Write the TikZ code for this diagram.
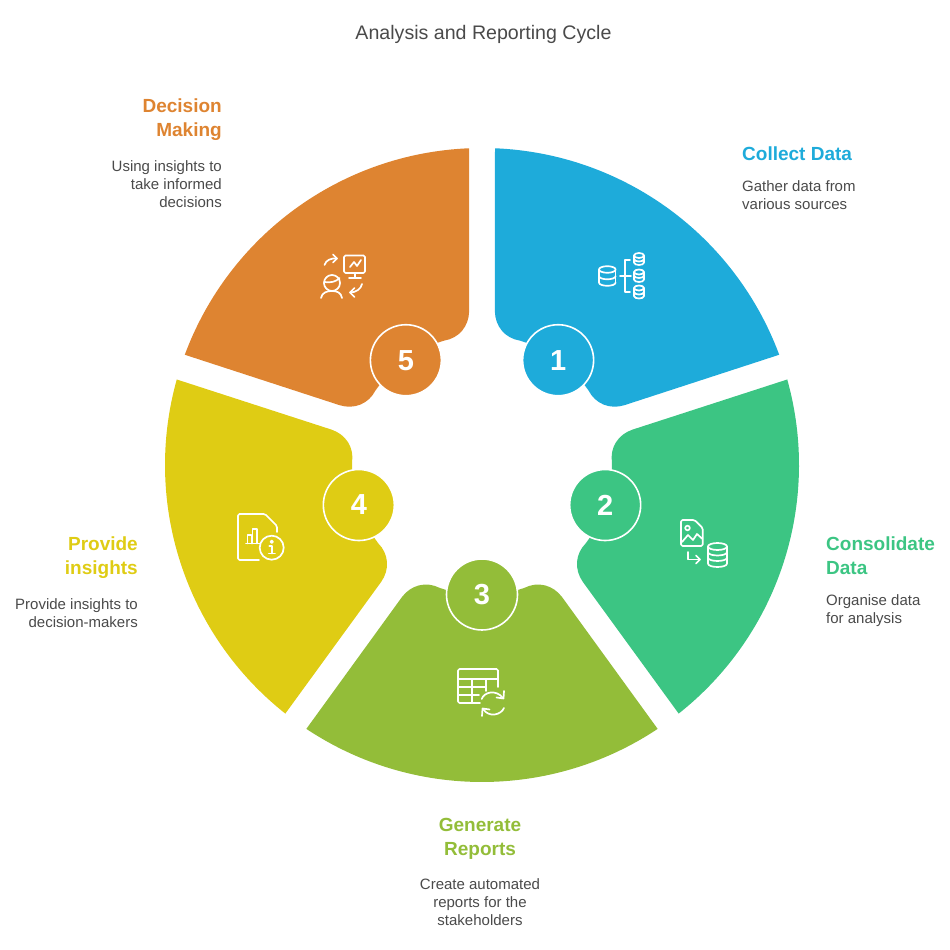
\documentclass[tikz,border=0pt]{standalone}
\usepackage{fontspec}
\setmainfont{Liberation Sans}
\usetikzlibrary{positioning}
\definecolor{clrblue}{HTML}{1EABDA}
\definecolor{clrgreen}{HTML}{3CC583}
\definecolor{clrolive}{HTML}{93BD39}
\definecolor{clryellow}{HTML}{DFCC14}
\definecolor{clrorange}{HTML}{DE8431}
\definecolor{clrtext}{HTML}{4A4A4A}
\newcommand{\dbstack}[6]{%
  \draw (#1,#2) ellipse[x radius=#3,y radius=#4];
  \draw (#1-#3,#2) -- ++(0,#5);
  \draw (#1+#3,#2) -- ++(0,#5);
  \foreach \b in {#6}
    \draw (#1-#3,#2+\b) .. controls +(0,1.33*#4) and +(0,1.33*#4) .. ++(2*#3,0);
}
\begin{document}
\begin{tikzpicture}[x=1pt,y=1pt]
  \tikzstyle{heading}=[inner sep=0pt, font=\bfseries\fontsize{19}{24}\selectfont]
  \tikzstyle{desc}=[inner sep=0pt, text=clrtext, font=\fontsize{15}{18}\selectfont]
  \tikzstyle{badge}=[circle, draw=white, line width=1.6pt, minimum size=71pt, inner sep=0pt, text=white, font=\bfseries\fontsize{29}{29}\selectfont]
  \tikzstyle{icon}=[draw=white, line width=1.7pt, line cap=round, line join=round]
  \useasboundingbox (0,0) rectangle (950,950);

  \node[text=clrtext, inner sep=0pt, font=\fontsize{19.6}{24}\selectfont] (title) at (483.5,916) {Analysis and Reporting Cycle};

  % sectors and numbers
  \begin{scope}[shift={(482,485)}]
    \foreach \n/\ang/\col in {1/54/clrblue, 2/-18/clrgreen, 3/-90/clrolive, 4/-162/clryellow, 5/-234/clrorange} {
      \fill[\col, rotate=\ang-90] (123.65:317) arc[start angle=123.65, end angle=56.35, radius=317]
        -- (80,132) .. controls (71,120) and (56,116) .. (71:130)
        arc[start angle=71, end angle=109, radius=130]
        .. controls (-56,116) and (-71,120) .. (-80,132) -- cycle;
      \node[badge, fill=\col] (badge\n) at (\ang:129.5) {\n};
    }
  \end{scope}

  % labels
  \node[heading, text=clrblue, anchor=north west] (collect) at (742,803.5) {Collect Data};
  \node[desc, align=left, below=19.5pt of collect.south west, anchor=north west] (collecttxt) {Gather data from\\various sources};

  \node[heading, text=clrgreen, align=left, anchor=north west] (consolidate) at (826,413.5) {Consolidate\\Data};
  \node[desc, align=left, below=19.5pt of consolidate.south west, anchor=north west] (consolidatetxt) {Organise data\\for analysis};

  \node[heading, text=clrolive, align=center, anchor=north] (generate) at (480,132) {Generate\\Reports};
  \node[desc, align=center, below=19pt of generate.south, anchor=north] (generatetxt) {Create automated\\reports for the\\stakeholders};

  \node[heading, text=clryellow, align=right, anchor=north east] (provide) at (138,413.5) {Provide\\insights};
  \node[desc, align=right, below=19.5pt of provide.south east, anchor=north east] (providetxt) {Provide insights to\\decision-makers};

  \node[heading, text=clrorange, align=right, anchor=north east] (decision) at (222,851) {Decision\\Making};
  \node[desc, align=right, below=19pt of decision.south east, anchor=north east] (decisiontxt) {Using insights to\\take informed\\decisions};

  % icon 1
  \begin{scope}[shift={(590,710)}, y=-1pt, every path/.style={icon}]
    \dbstack{17.3}{29.5}{8.3}{3.3}{13}{6.5,13}
    \dbstack{49}{15.5}{5}{2.5}{7}{3.5,7}
    \dbstack{49}{32}{5}{2.5}{7.5}{3.5,7.5}
    \dbstack{49}{48}{5}{2.5}{8}{4,8}
    \draw (40,20) -- (35,20) -- (35,52) -- (40,52);
    \draw (30,36) -- (41,36);
  \end{scope}

  % icon 2
  \begin{scope}[shift={(670,440)}, y=-1pt, every path/.style={icon}]
    \draw[rounded corners=1.5pt] (18,10) -- (11,10) -- (11,36) -- (32.7,36) -- (32.7,18) -- (24.5,10) -- cycle;
    \draw (17.5,18) circle[radius=2.3];
    \draw (12,32) -- (18,25) -- (23,30) -- (27,24) -- (32.5,29);
    \draw (18,42) -- (18,49.5) -- (30,49.5);
    \draw (26,45.5) -- (30,49.5) -- (26,53.5);
    \dbstack{47.5}{36.5}{9.5}{3.5}{17}{5.5,11,17}
  \end{scope}

  % icon 3
  \begin{scope}[shift={(450,290)}, y=-1pt, every path/.style={icon}]
    \draw[rounded corners=1.5pt] (30,43) -- (8,43) -- (8,9) -- (48,9) -- (48,27);
    \draw (8,19) -- (48,19);
    \draw (8,27) -- (36,27);
    \draw (8,35) -- (29,35);
    \draw (22,19) -- (22,43);
    \draw (36,19) -- (36,31);
    \draw (31.7,39) .. controls (34,32) and (46,29) .. (53,38);
    \draw (54,31) -- (53.5,38.5) -- (46.5,37.5);
    \draw (54,48) .. controls (51,55) and (39,58) .. (33,49);
    \draw (32,56) -- (32.5,48.5) -- (39.5,49.5);
  \end{scope}

  % icon 4
  \begin{scope}[shift={(230,445)}, y=-1pt, every path/.style={icon}]
    \draw[rounded corners=1.5pt] (29,55) -- (8,55) -- (8,9) -- (35,9) -- (47,21) -- (47,27);
    \draw (16,38.5) -- (30,38.5);
    \draw (17.5,38.5) -- (17.5,30) -- (21.5,30) -- (21.5,38.5);
    \draw (22.5,38.5) -- (22.5,24) -- (27,24) -- (27,38.5);
    \draw (41.7,42.7) circle[radius=12];
    \fill[white] (41.7,36.8) circle[radius=1.2];
    \draw (39.3,41) -- (41.7,41) -- (41.7,48.5);
    \draw (38.8,48.5) -- (45,48.5);
  \end{scope}

  % icon 5
  \begin{scope}[shift={(312,705)}, y=-1pt, every path/.style={icon}]
    \draw[rounded corners=1.5pt] (32,10.5) rectangle (53,28);
    \draw (38,22) -- (42,17) -- (45,21) -- (49,15);
    \draw (43,28) -- (43,33);
    \draw (37,33) -- (49,33);
    \draw (12.5,20) .. controls (14,15) and (19,13) .. (25,13.5);
    \draw (21,9.5) -- (25,13.5) -- (21,17.5);
    \draw (20,38) circle[radius=8];
    \draw (12.3,37) .. controls (18,38) and (24,37) .. (27.5,33);
    \draw (9,53) .. controls (10,47.5) and (15,46) .. (20,46) .. controls (25,46) and (29,47.5) .. (30,53);
    \draw (50,39) .. controls (49,44) and (44,47.5) .. (38,47.5);
    \draw (42.5,43) -- (38,47.5) -- (42.5,52);
  \end{scope}
\end{tikzpicture}
\end{document}
